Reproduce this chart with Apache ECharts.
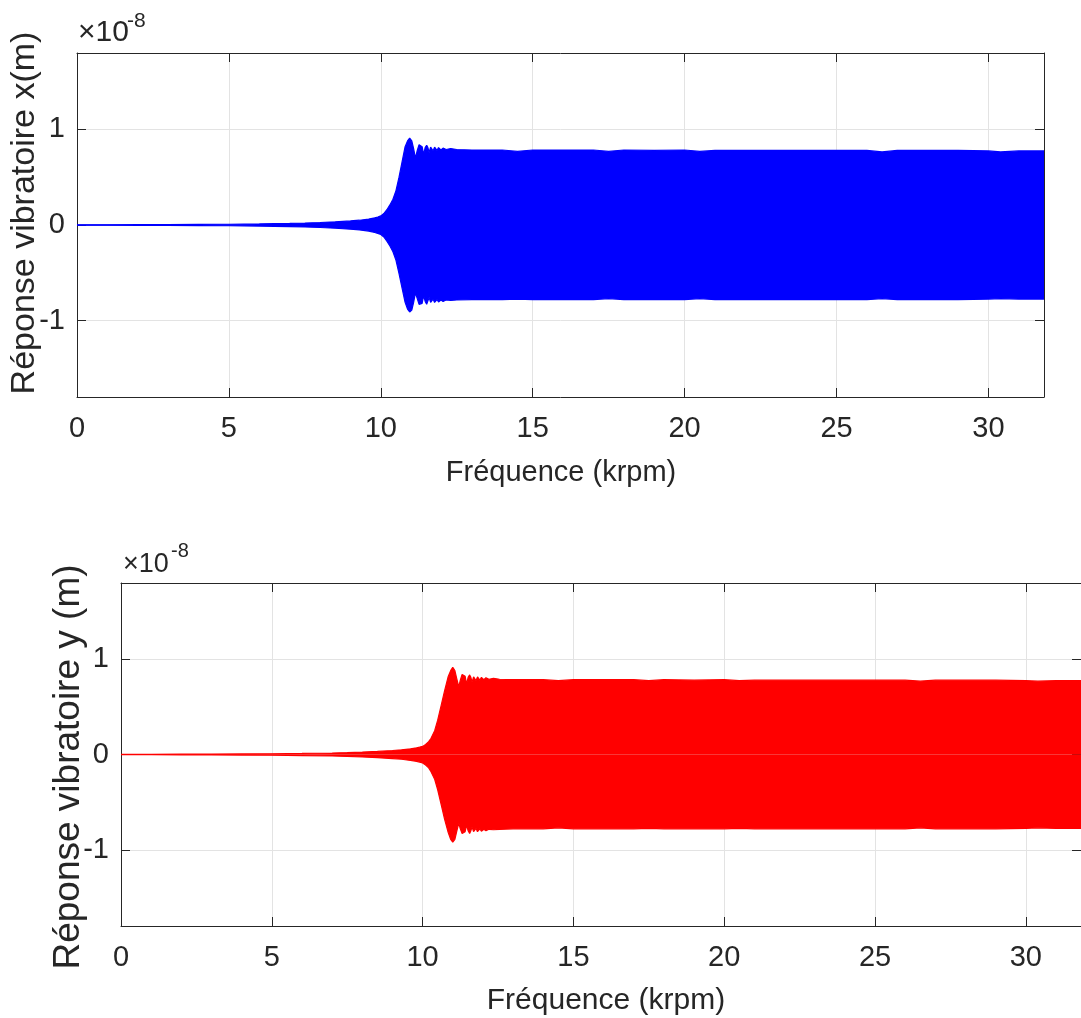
<!DOCTYPE html>
<html>
<head>
<meta charset="utf-8">
<title>Réponse vibratoire</title>
<script src="https://cdn.jsdelivr.net/npm/echarts/dist/echarts.min.js"></script>
<style>
  html, body { margin: 0; padding: 0; background: #ffffff; }
  #chart { width: 1081px; height: 1018px; }
</style>
</head>
<body>
<div id="chart"></div>
<script>
// Swept-frequency response envelopes (values in units of 1e-8 m), frequency in krpm.
const freqX = [0, 1, 2, 3, 4, 5, 6, 7, 7.5, 8, 8.5, 9, 9.3, 9.6,
  9.8, 9.9, 10, 10.1, 10.2, 10.3, 10.4, 10.5, 10.6, 10.7, 10.8,
  10.88, 10.95, 11.02, 11.08, 11.14, 11.2, 11.26, 11.31, 11.36, 11.41, 11.46, 11.51, 11.55, 11.59, 11.64,
  11.68, 11.72, 11.77, 11.81, 11.85, 11.9, 11.94, 11.98, 12.05, 12.15, 12.3, 12.5, 13, 14, 14.5, 15,
  16, 17, 17.5, 18, 19, 20, 20.5, 21, 22, 23, 24, 25, 26, 26.5, 27, 28, 29, 30, 30.4, 31, 31.83];
const upperX = [0.002, 0.002, 0.003, 0.004, 0.006, 0.008, 0.011, 0.016, 0.02, 0.026, 0.033, 0.043, 0.05, 0.062,
  0.075, 0.083, 0.095, 0.12, 0.16, 0.21, 0.27, 0.36, 0.50, 0.66, 0.82,
  0.88, 0.91, 0.88, 0.80, 0.70, 0.78, 0.84, 0.85, 0.82, 0.74, 0.81, 0.835, 0.81, 0.76, 0.815,
  0.82, 0.775, 0.815, 0.81, 0.78, 0.81, 0.805, 0.785, 0.805, 0.79, 0.80, 0.79, 0.785, 0.785, 0.77, 0.785,
  0.785, 0.785, 0.77, 0.785, 0.78, 0.785, 0.77, 0.78, 0.78, 0.78, 0.78, 0.78, 0.78, 0.765, 0.78, 0.78, 0.78, 0.775, 0.765, 0.775, 0.775];
const lowerX = [-0.002, -0.002, -0.003, -0.004, -0.006, -0.008, -0.011, -0.016, -0.02, -0.026, -0.034, -0.044, -0.052, -0.064,
  -0.078, -0.088, -0.10, -0.125, -0.17, -0.22, -0.28, -0.37, -0.51, -0.66, -0.81,
  -0.88, -0.91, -0.89, -0.81, -0.71, -0.77, -0.83, -0.84, -0.82, -0.74, -0.80, -0.83, -0.81, -0.76, -0.81,
  -0.815, -0.775, -0.81, -0.805, -0.78, -0.805, -0.80, -0.785, -0.80, -0.785, -0.79, -0.785, -0.78, -0.78, -0.775, -0.78,
  -0.78, -0.78, -0.77, -0.78, -0.78, -0.78, -0.77, -0.78, -0.78, -0.78, -0.78, -0.78, -0.78, -0.77, -0.78, -0.78, -0.78, -0.775, -0.77, -0.775, -0.775];

const freqY = [0, 1, 2, 3, 4, 5, 6, 7, 7.5, 8, 8.5, 9, 9.3, 9.6,
  9.8, 9.9, 10, 10.1, 10.2, 10.28, 10.4, 10.5, 10.62, 10.73, 10.85,
  10.93, 11.0, 11.07, 11.13, 11.2, 11.25, 11.31, 11.36, 11.41, 11.46, 11.51, 11.56, 11.6, 11.64, 11.69,
  11.73, 11.77, 11.82, 11.86, 11.9, 11.95, 11.99, 12.03, 12.1, 12.2, 12.35, 12.55, 13, 14, 14.5, 15,
  16, 17, 17.5, 18, 19, 20, 20.5, 21, 22, 23, 24, 25, 26, 26.5, 27, 28, 29, 30, 30.4, 31, 31.83];
const upperY = [0.002, 0.002, 0.003, 0.004, 0.006, 0.008, 0.011, 0.016, 0.02, 0.025, 0.032, 0.042, 0.049, 0.06,
  0.07, 0.077, 0.085, 0.105, 0.135, 0.17, 0.25, 0.36, 0.52, 0.67, 0.82,
  0.88, 0.915, 0.88, 0.80, 0.71, 0.78, 0.84, 0.85, 0.82, 0.74, 0.81, 0.835, 0.81, 0.76, 0.815,
  0.82, 0.775, 0.815, 0.81, 0.78, 0.81, 0.805, 0.785, 0.805, 0.79, 0.80, 0.79, 0.785, 0.785, 0.775, 0.785,
  0.785, 0.785, 0.775, 0.785, 0.78, 0.785, 0.775, 0.78, 0.78, 0.78, 0.78, 0.78, 0.78, 0.77, 0.78, 0.78, 0.78, 0.775, 0.77, 0.775, 0.775];
const lowerY = [-0.002, -0.002, -0.003, -0.004, -0.006, -0.008, -0.011, -0.016, -0.02, -0.026, -0.033, -0.043, -0.05, -0.062,
  -0.072, -0.08, -0.088, -0.11, -0.14, -0.18, -0.26, -0.37, -0.53, -0.68, -0.82,
  -0.89, -0.92, -0.89, -0.81, -0.72, -0.78, -0.83, -0.84, -0.81, -0.74, -0.80, -0.83, -0.80, -0.76, -0.81,
  -0.815, -0.775, -0.81, -0.805, -0.78, -0.805, -0.80, -0.785, -0.80, -0.785, -0.79, -0.785, -0.78, -0.78, -0.77, -0.78,
  -0.78, -0.78, -0.775, -0.78, -0.78, -0.78, -0.775, -0.78, -0.78, -0.78, -0.78, -0.78, -0.78, -0.77, -0.78, -0.78, -0.78, -0.775, -0.77, -0.775, -0.775];

const xTicks = [0, 5, 10, 15, 20, 25, 30];
const yTicks = [-1, 0, 1];
const X_MAX = 31.83;
const Y_LIM = 1.8;

const FONT = '"Liberation Sans", Arial, Helvetica, sans-serif';
const INK = '#262626';
const GRID_LINE = '#e3e3e3';

function pairs(xs, ys) {
  return xs.map((x, i) => [x, ys[i]]);
}

function xAxes(gridIndex) {
  const common = {
    type: 'value', gridIndex: gridIndex, min: 0, max: X_MAX,
    axisLine: { show: true, onZero: false, lineStyle: { color: INK, width: 1 } },
    axisTick: { show: true, inside: true, length: 9, customValues: xTicks, lineStyle: { color: INK, width: 1 } }
  };
  return [
    Object.assign({}, common, {
      position: 'bottom',
      axisLabel: { show: true, customValues: xTicks, fontSize: 29, color: INK, fontFamily: FONT, margin: 17 },
      splitLine: { show: true, lineStyle: { color: GRID_LINE, width: 1 } }
    }),
    Object.assign({}, common, {
      position: 'top',
      axisLabel: { show: false },
      splitLine: { show: false }
    })
  ];
}

function yAxes(gridIndex) {
  const common = {
    type: 'value', gridIndex: gridIndex, min: -Y_LIM, max: Y_LIM,
    axisLine: { show: true, onZero: false, lineStyle: { color: INK, width: 1 } },
    axisTick: { show: true, inside: true, length: 9, customValues: yTicks, lineStyle: { color: INK, width: 1 } }
  };
  return [
    Object.assign({}, common, {
      position: 'left',
      axisLabel: { show: true, customValues: yTicks, fontSize: 29, color: INK, fontFamily: FONT, margin: 12 },
      splitLine: { show: true, lineStyle: { color: GRID_LINE, width: 1 } }
    }),
    Object.assign({}, common, {
      position: 'right',
      axisLabel: { show: false },
      splitLine: { show: false }
    })
  ];
}

function band(xIdx, yIdx, xs, ys, color) {
  return {
    type: 'line', xAxisIndex: xIdx, yAxisIndex: yIdx,
    data: pairs(xs, ys),
    showSymbol: false, symbol: 'none', silent: true, z: 3,
    lineStyle: { color: color, width: 1.2 },
    areaStyle: { color: color, opacity: 1 }
  };
}

function label(text, x, y, size, rotate) {
  return {
    type: 'text', x: x, y: y, rotation: rotate ? Math.PI / 2 : 0, z: 10,
    style: { text: text, x: 0, y: 0, align: 'center', verticalAlign: 'middle', fontSize: size, fontFamily: FONT, fill: INK }
  };
}

function exponent(x, y, size, supX, supY, supSize) {
  return [
    { type: 'text', x: x, y: y, z: 10,
      style: { text: '×10', align: 'left', verticalAlign: 'middle', fontSize: size, fontFamily: FONT, fill: INK } },
    { type: 'text', x: supX, y: supY, z: 10,
      style: { text: '-8', align: 'left', verticalAlign: 'middle', fontSize: supSize, fontFamily: FONT, fill: INK } }
  ];
}

const chart = echarts.init(document.getElementById('chart'), null, { renderer: 'canvas' });

chart.setOption({
  animation: false,
  backgroundColor: '#ffffff',
  grid: [
    { left: 77, top: 53, width: 967, height: 344, containLabel: false },
    { left: 121, top: 583, width: 965, height: 343, containLabel: false }
  ],
  xAxis: xAxes(0).concat(xAxes(1)),
  yAxis: yAxes(0).concat(yAxes(1)),
  series: [
    band(0, 0, freqX, upperX, '#0000ff'),
    band(0, 0, freqX, lowerX, '#0000ff'),
    band(2, 2, freqY, upperY, '#ff0000'),
    band(2, 2, freqY, lowerY, '#ff0000')
  ],
  graphic: [
    label('Réponse vibratoire x(m)', 25, 213, 34, true),
    label('Fréquence (krpm)', 561, 473, 29, false),
    label('Réponse vibratoire y (m)', 69, 767, 37, true),
    label('Fréquence (krpm)', 606, 1001, 30, false)
  ].concat(exponent(78, 33, 30, 127, 21, 21))
   .concat(exponent(123, 565, 27, 171, 551, 20))
});
</script>
</body>
</html>
